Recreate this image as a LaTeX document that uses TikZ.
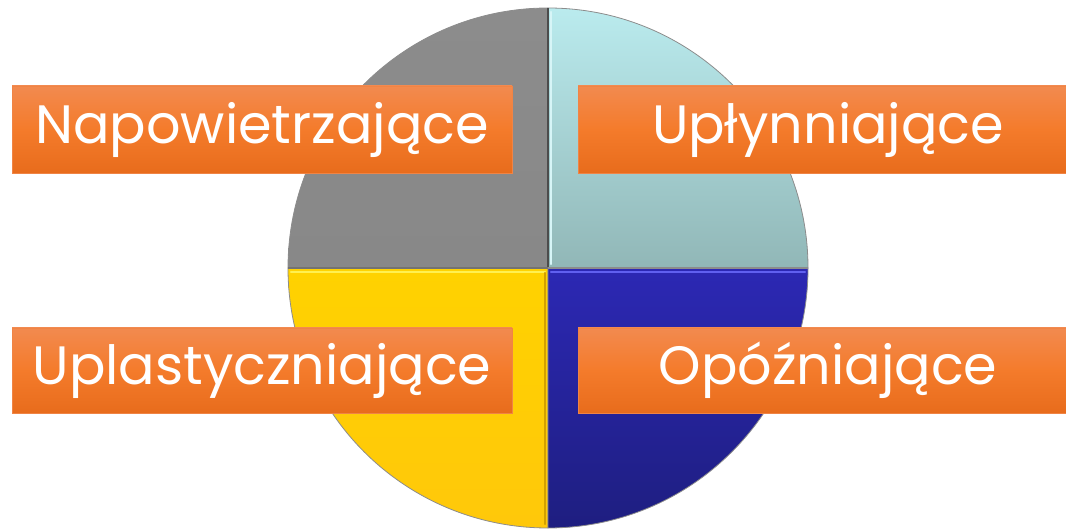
\documentclass[tikz,border=0pt]{standalone}
\usepackage{fontspec}
\setmainfont{Poppins}
\begin{document}
\begin{tikzpicture}[x=1pt,y=1pt]
\definecolor{orgTop}{HTML}{F28A4F}
\definecolor{orgMid}{HTML}{F47B2B}
\definecolor{orgBot}{HTML}{E86C1C}
\tikzset{
  quad/.style={draw=black!45, line width=0.8pt, line join=round},
  divider/.style={draw=black!70, line width=2pt},
  lbl/.style={rectangle, inner sep=0pt, text=white, font=\fontsize{54}{60}\selectfont,
    top color=orgTop, bottom color=orgBot, middle color=orgMid,
    draw=orgTop!80!orgBot, line width=0.6pt, minimum width=500pt},
  hilite/.style={line width=2.2pt, line cap=round},
}
\useasboundingbox (0,0) rectangle (1066,528);
\clip (0,0) rectangle (1066,528);
\coordinate (c) at (548,260);
% four quadrants of the disc
\path[quad, top color={rgb,255:red,140;green,140;blue,140}, bottom color={rgb,255:red,136;green,136;blue,136}]
  (c) -- ++(-260,0) arc[start angle=180, end angle=90, radius=260] -- cycle;
\path[quad, top color={rgb,255:red,186;green,235;blue,238}, bottom color={rgb,255:red,145;green,183;blue,183}]
  (c) -- ++(0,260) arc[start angle=90, end angle=0, radius=260] -- cycle;
\path[quad, top color={rgb,255:red,255;green,210;blue,0}, bottom color={rgb,255:red,255;green,200;blue,10}]
  (c) -- ++(0,-260) arc[start angle=270, end angle=180, radius=260] -- cycle;
\path[quad, top color={rgb,255:red,44;green,40;blue,180}, bottom color={rgb,255:red,30;green,30;blue,128}]
  (c) -- ++(260,0) arc[start angle=0, end angle=-90, radius=260] -- cycle;
% dividing lines
\draw[divider] (c) -- ++(0,260);
\draw[divider, draw=black!55] (c) -- ++(-260,0);
\draw[divider, draw=black!45] (c) -- ++(260,0);
% bevel highlights along the inner edges
\draw[hilite, color={rgb,255:red,255;green,240;blue,80}] (291,256) -- (545,256);
\draw[hilite, color={rgb,255:red,96;green,96;blue,240}] (551,256) -- (805,256);
\draw[hilite, color={rgb,255:red,210;green,160;blue,0}] (545,255) -- (545,4);
\draw[hilite, color={rgb,255:red,215;green,245;blue,247}] (551,516) -- (551,264);
% labels
\node[lbl, minimum height=87pt] (napow) at (262,398.5) {Napowietrzające};
\node[lbl, minimum height=87pt] (uplyn) at (828,398.5) {Upłynniające};
\node[lbl, minimum height=85pt] (uplas) at (262,157.5) {Uplastyczniające};
\node[lbl, minimum height=85pt] (opozn) at (828,157.5) {Opóźniające};
\end{tikzpicture}
\end{document}
